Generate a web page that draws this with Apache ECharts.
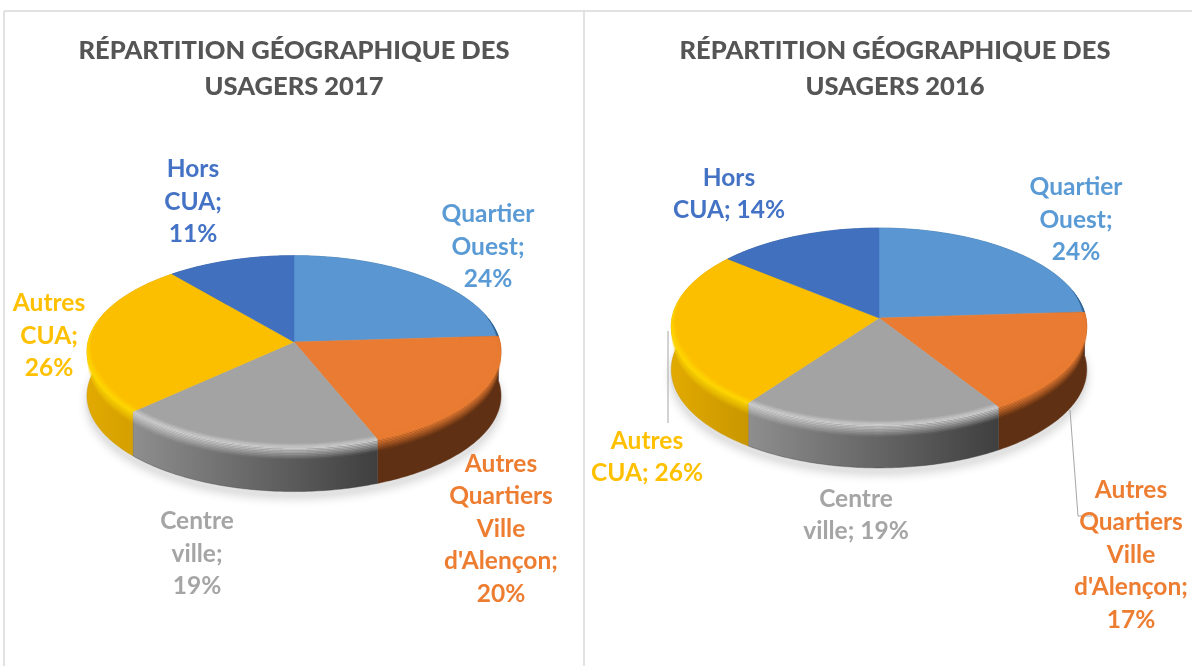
<!DOCTYPE html>
<html>
<head>
<meta charset="utf-8">
<title>Répartition géographique des usagers</title>
<style>
	html, body { margin: 0; padding: 0; background: #fff; }
	#chart { width: 1192px; height: 666px; }
</style>
<script src="https://cdn.jsdelivr.net/npm/echarts@6/dist/echarts.min.js"></script>
</head>
<body>
<div id="chart"></div>
<script>
// valeurs
var names = ['Quartier Ouest', "Autres Quartiers Ville d'Alençon", 'Centre ville', 'Autres CUA', 'Hors CUA']
var values2017 = [24, 20, 19, 26, 11]
var values2016 = [24, 17, 19, 26, 14]
var title2017 = 'RÉPARTITION GÉOGRAPHIQUE DES\nUSAGERS 2017'
var title2016 = 'RÉPARTITION GÉOGRAPHIQUE DES\nUSAGERS 2016'
// coupures de ligne des étiquettes, comme dans l'original
var nameLines = ['Quartier\nOuest', "Autres\nQuartiers\nVille\nd'Alençon", 'Centre\nville', 'Autres\nCUA', 'Hors\nCUA']
var valueSep2017 = ['\n', '\n', '\n', '\n', '\n']
var valueSep2016 = ['\n', '\n', ' ', ' ', ' ']

// styles
var FONT = 'Lato, "Noto Sans", sans-serif'
var topColors = ['#5a97d2', '#e97c32', '#a3a3a3', '#fcbf00', '#4170bf']
var labelColors = ['#5b9bd5', '#ed7d31', '#a5a5a5', '#ffc000', '#4472c4']
var bevelColors = ['40,85,125', '233,124,50', '208,208,208', '255,218,0', '50,90,160']
var wallColors = [['#2e5d87', '#2e5d87'], ['#5f3013', '#5f3013'], ['#8e8e8e', '#3f3f3f'], ['#e2aa00', '#c89600'], ['#2a4a85', '#2a4a85']]

// placement
var geo2017 = {cx: 294, cy: 342, R: 206, Ry: 95, k: 0.1, depth: 44}
var geo2016 = {cx: 879, cy: 318, R: 207, Ry: 97.7, k: 0.086, depth: 43}
var labelPos2017 = [[488, 247], [501, 529], [197, 554], [49, 336], [193, 202]]
var labelPos2016 = [[1076, 220], [1131, 555], [856, 515], [647, 457], [729, 194]]

// point du disque en perspective: theta depuis le haut, sens horaire
function project(g, theta, r, dy) {
	var s = Math.sin(theta) * r
	var c = Math.cos(theta) * r
	var w = 1 + g.k * c
	return [g.cx + g.R * s / w, g.cy - g.Ry * c / w + dy]
}

function sliceAngles(values, i) {
	var total = values.reduce(function (a, b) { return a + b }, 0)
	var before = values.slice(0, i).reduce(function (a, b) { return a + b }, 0)
	return [before / total * Math.PI * 2, (before + values[i]) / total * Math.PI * 2]
}

function arc(a0, a1, fn) {
	var n = Math.max(2, Math.ceil((a1 - a0) / 0.015))
	var pts = []
	for (var j = 0; j <= n; j++) {
		pts.push(fn(a0 + (a1 - a0) * j / n))
	}
	return pts
}

// le biseau n'existe que vers l'avant du disque
function bevelVis(theta) {
	var v = (0.3 - Math.cos(theta)) / 0.7
	return Math.max(0, Math.min(1, v))
}

function shadowSeries(g) {
	return {
		type: 'custom', coordinateSystem: 'none', z: 1, silent: true, data: [0],
		renderItem: function () {
			var pts = arc(0, Math.PI * 2, function (t) { return project(g, t, 1.005, g.depth + 4) })
			return {
				type: 'polygon', shape: {points: pts},
				style: {fill: '#e2e2e2', shadowBlur: 10, shadowColor: '#d8d8d8', shadowOffsetY: 3}
			}
		}
	}
}

function wallSeries(g, values) {
	return {
		type: 'custom', coordinateSystem: 'none', z: 2, silent: true, data: values,
		renderItem: function (params) {
			var i = params.dataIndex
			var a = sliceAngles(values, i)
			var up = arc(a[0], a[1], function (t) { return project(g, t, 1, 0) })
			var down = arc(a[0], a[1], function (t) { return project(g, t, 1, g.depth) }).reverse()
			var xs = up.map(function (p) { return p[0] })
			var fill = {
				type: 'linear', global: true,
				x: Math.min.apply(null, xs), y: 0, x2: Math.max.apply(null, xs), y2: 0,
				colorStops: [{offset: 0, color: wallColors[i][0]}, {offset: 1, color: wallColors[i][1]}]
			}
			return {type: 'polygon', shape: {points: up.concat(down)}, style: {fill: fill, stroke: wallColors[i][1], lineWidth: 0.4}}
		}
	}
}

function topSeries(g, values) {
	return {
		type: 'custom', coordinateSystem: 'none', z: 3, silent: true, data: values,
		renderItem: function (params) {
			var i = params.dataIndex
			var a = sliceAngles(values, i)
			var pts = [project(g, 0, 0, 0)].concat(arc(a[0], a[1], function (t) { return project(g, t, 1, 0) }))
			return {type: 'polygon', shape: {points: pts}, style: {fill: topColors[i], stroke: topColors[i], lineWidth: 0.5}}
		}
	}
}

function bevelSeries(g, values) {
	var inner = 6
	var outer = 8
	function level(n) {
		// n < inner: dans la face, sinon sur la paroi
		if (n <= inner) {
			return function (th) { return project(g, th, 1 - 0.04 * bevelVis(th) * (1 - n / inner), 0) }
		}
		return function (th) { return project(g, th, 1, 12 * bevelVis(th) * (n - inner) / outer) }
	}
	return {
		type: 'custom', coordinateSystem: 'none', z: 4, silent: true, data: values,
		renderItem: function (params) {
			var i = params.dataIndex
			var a = sliceAngles(values, i)
			var kids = []
			for (var n = 0; n < inner + outer; n++) {
				var alpha = n < inner ? (n + 0.5) / inner : 1 - (n - inner + 0.5) / outer
				var p0 = arc(a[0], a[1], level(n))
				var p1 = arc(a[0], a[1], level(n + 1)).reverse()
				kids.push({
					type: 'polygon', shape: {points: p0.concat(p1)},
					style: {fill: 'rgba(' + bevelColors[i] + ',' + alpha.toFixed(2) + ')'}
				})
			}
			return {type: 'group', children: kids}
		}
	}
}

function labelSeries(values, seps, positions) {
	return {
		type: 'custom', coordinateSystem: 'none', z: 6, silent: true, data: values,
		renderItem: function (params) {
			var i = params.dataIndex
			return {
				type: 'text', x: positions[i][0], y: positions[i][1],
				style: {
					text: nameLines[i] + ';' + seps[i] + values[i] + '%',
					fill: labelColors[i], font: 'bold 24.5px ' + FONT,
					lineHeight: 32.5, align: 'center', verticalAlign: 'middle'
				}
			}
		}
	}
}

function line(x1, y1, x2, y2, color, width) {
	return {type: 'line', shape: {x1: x1, y1: y1, x2: x2, y2: y2}, style: {stroke: color, lineWidth: width}, z: 5}
}

function titleOpt(text, x) {
	return {
		text: text, left: x, top: 28, textAlign: 'center',
		textStyle: {color: '#555555', fontFamily: FONT, fontWeight: 900, fontSize: 25.5, lineHeight: 36}
	}
}

var myChart = echarts.init(document.getElementById('chart'))
myChart.setOption({
	animation: false,
	backgroundColor: '#fff',
	title: [titleOpt(title2017, 289), titleOpt(title2016, 890)],
	graphic: [
		// cadres
		line(4, 11, 1192, 11, '#d9d9d9', 1.5),
		line(4, 11, 4, 666, '#d9d9d9', 1.5),
		line(584, 11, 584, 666, '#d9d9d9', 1.5),
		// traits de rappel 2016
		line(668, 331, 668, 423, '#a6a6a6', 1),
		line(1070, 410, 1078, 516, '#a6a6a6', 1),
		line(1078, 516, 1092, 516, '#a6a6a6', 1)
	],
	series: [
		shadowSeries(geo2017), wallSeries(geo2017, values2017), topSeries(geo2017, values2017),
		bevelSeries(geo2017, values2017), labelSeries(values2017, valueSep2017, labelPos2017),
		shadowSeries(geo2016), wallSeries(geo2016, values2016), topSeries(geo2016, values2016),
		bevelSeries(geo2016, values2016), labelSeries(values2016, valueSep2016, labelPos2016)
	]
})
</script>
</body>
</html>
